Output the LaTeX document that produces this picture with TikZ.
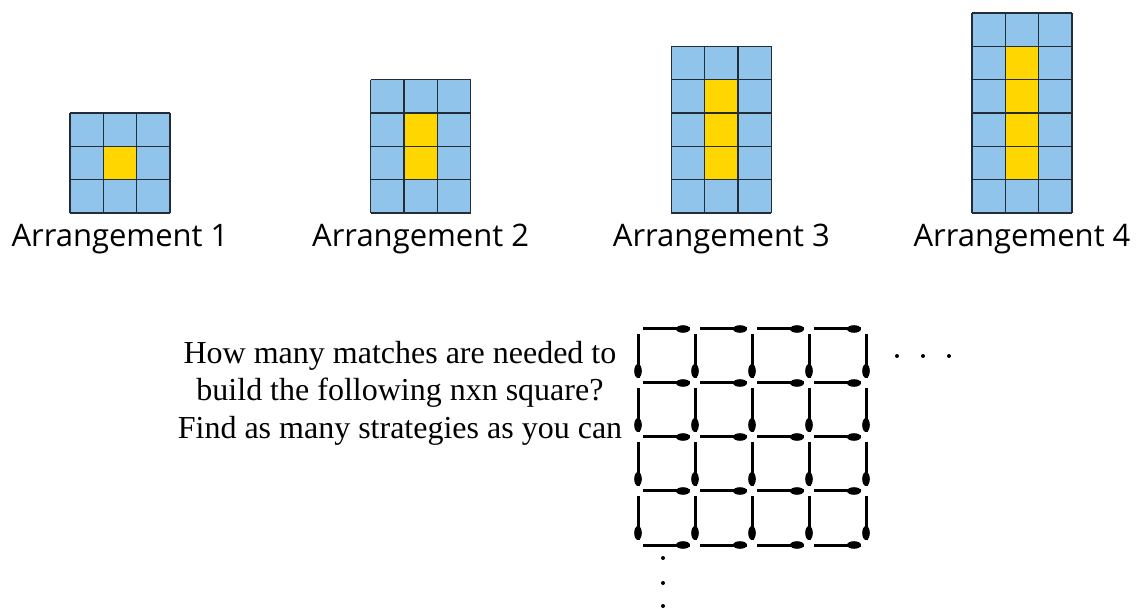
\documentclass[tikz,border=0pt]{standalone}
\usepackage{fontspec}
\setmainfont{Liberation Serif}
\newfontfamily\labelfont{Open Sans}
\definecolor{cellblue}{RGB}{145,196,234}
\definecolor{midgold}{RGB}{255,214,0}
\definecolor{gridink}{RGB}{35,45,55}
\tikzset{match/.style={line width=3pt},
  arrlabel/.style={font=\labelfont\fontsize{31}{36}\selectfont}}
\begin{document}
\begin{tikzpicture}[x=1pt,y=-1pt,line join=round]
  \useasboundingbox (0,0) rectangle (1136,609);
  \def\cs{33.33}
  % the four arrangements
  \foreach \k in {1,...,4} {
    \pgfmathsetmacro{\xl}{70+300.67*(\k-1)}
    \pgfmathsetmacro{\yt}{213-\cs*(\k+2)}
    \pgfmathtruncatemacro{\nr}{\k+2}
    \fill[cellblue] (\xl,\yt) rectangle ++(3*\cs,\nr*\cs);
    \fill[midgold] (\xl+\cs,\yt+\cs) rectangle ++(\cs,\k*\cs);
    \foreach \i in {0,...,3} \draw[gridink,line width=1.6pt] (\xl+\i*\cs,\yt) -- ++(0,\nr*\cs);
    \foreach \j in {0,...,\nr} \draw[gridink,line width=1.6pt] (\xl,\yt+\j*\cs) -- ++(3*\cs,0);
    \node[arrlabel] (arr\k) at (\xl+1.5*\cs,239) {Arrangement \k};
  }
  \node[align=center,font=\fontsize{32}{37.5}\selectfont] (question) at (400,393)
    {How many matches are needed to\\build the following nxn square?\\Find as many strategies as you can};
  % matchstick square
  \def\xo{638} \def\yo{329} \def\dx{57} \def\dy{54}
  \foreach \j in {0,...,4} \foreach \i in {0,...,3} {
    \draw[match] (\xo+\i*\dx+5,\yo+\j*\dy) -- (\xo+\i*\dx+\dx-5,\yo+\j*\dy);
    \fill (\xo+\i*\dx+\dx-12,\yo+\j*\dy) ellipse (7 and 3.8);
  }
  \foreach \i in {0,...,4} \foreach \j in {0,...,3} {
    \draw[match] (\xo+\i*\dx,\yo+\j*\dy+5) -- (\xo+\i*\dx,\yo+\j*\dy+\dy-5);
    \fill (\xo+\i*\dx,\yo+\j*\dy+\dy-12) ellipse (3.8 and 7);
  }
  \foreach \p in {(897,356),(923,356),(949,356),(663,558),(663,583),(663,606)} \fill \p circle (2);
\end{tikzpicture}
\end{document}
